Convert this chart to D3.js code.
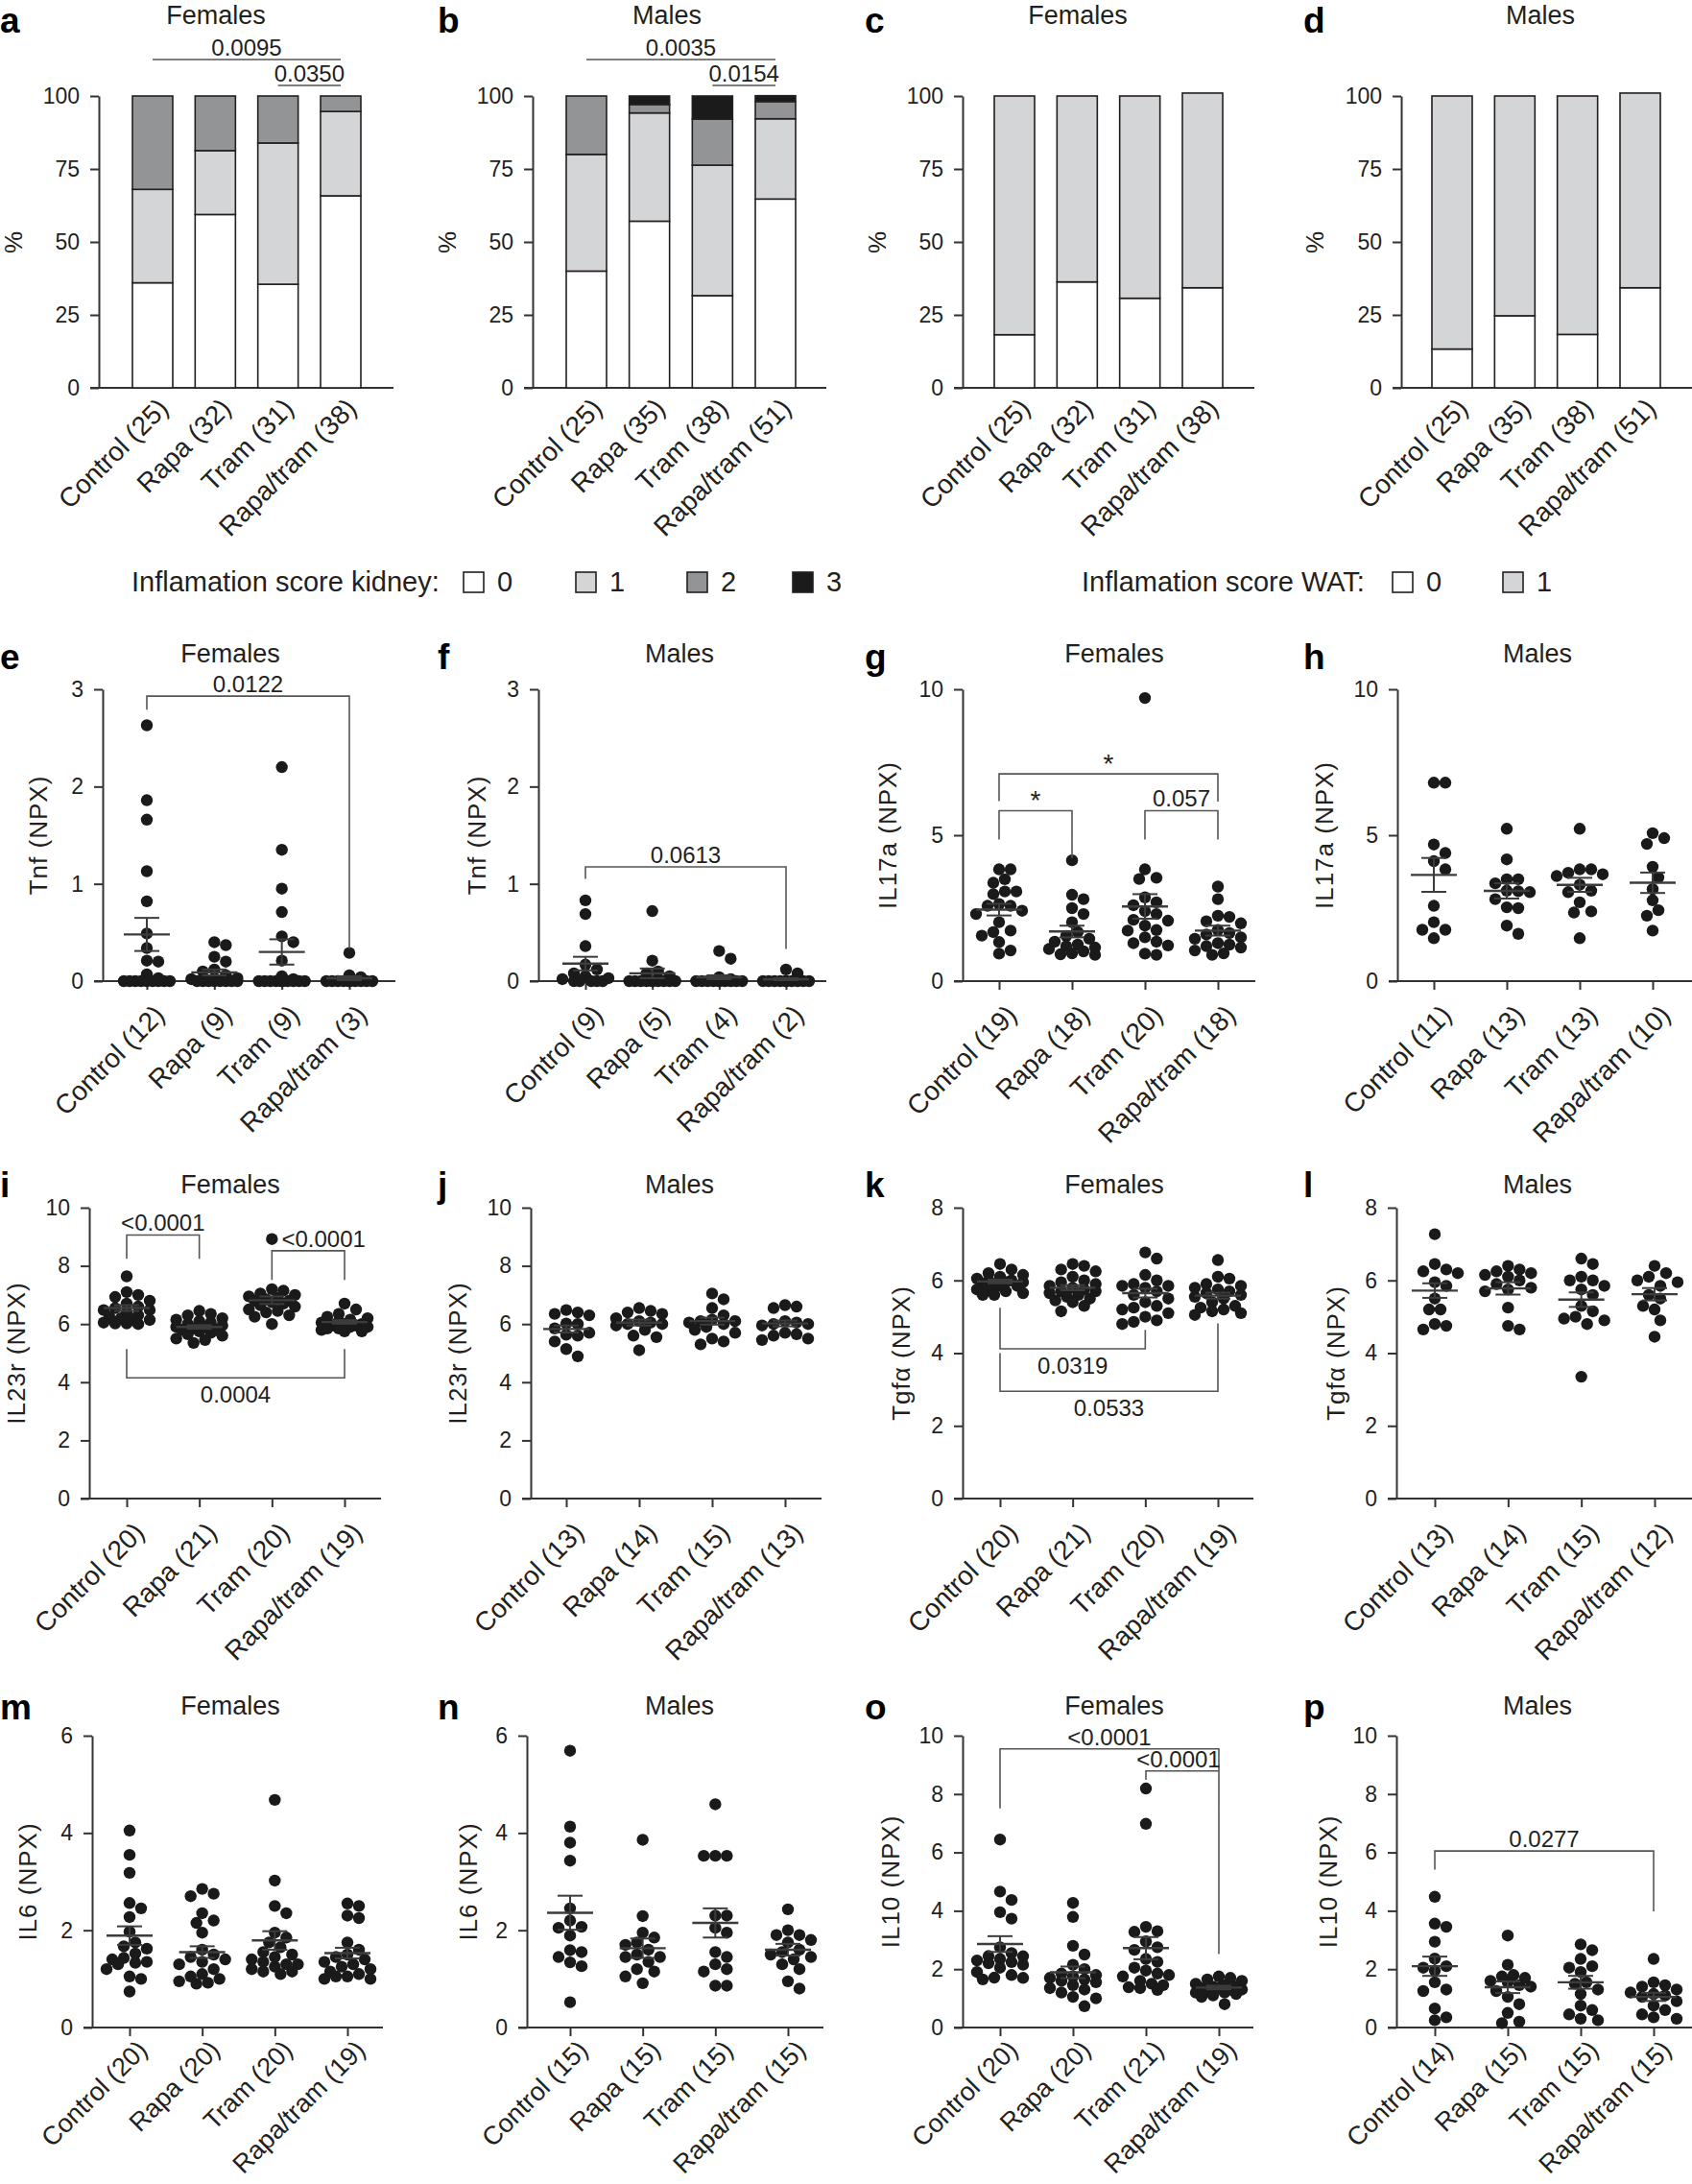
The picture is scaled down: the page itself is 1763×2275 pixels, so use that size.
<!DOCTYPE html>
<html><head><meta charset="utf-8">
<script src="https://cdn.jsdelivr.net/npm/d3@7"></script>
<style>
body{margin:0;background:#fff}
svg{display:block}
</style>
</head><body>
<svg id="fig" width="1763" height="2275"></svg>
<script>
// ---------------- DATA ----------------
const groups = ["Control", "Rapa", "Tram", "Rapa/tram"];
const kidneyScores = ["0", "1", "2", "3"];
const watScores = ["0", "1"];

// stacked percentages (score 0,1,2,3) per group
const aKidneyFemales = [[36, 32, 32, 0], [59.4, 21.9, 18.7, 0], [35.5, 48.4, 16.1, 0], [65.8, 28.9, 5.3, 0]];
const bKidneyMales = [[40, 40, 20, 0], [57.1, 37.1, 2.9, 2.9], [31.6, 44.7, 15.8, 7.9], [64.7, 27.5, 5.9, 2.0]];
const cWatFemales = [[18.2, 81.8], [36.3, 63.7], [30.7, 69.3], [34.3, 66.7]];
const dWatMales = [[13.3, 86.7], [24.7, 75.3], [18.3, 81.7], [34.3, 66.7]];
const aN = [25, 32, 31, 38], bN = [25, 35, 38, 51], cN = [25, 32, 31, 38], dN = [25, 35, 38, 51];

// scatter values per group
const eTnfF = [
  [2.63,1.86,1.66,1.13,0.82,0.49,0.34,0.21,0.2,0.07,0.03,0,0,0,0,0,0,0,0,0],
  [0.4,0.37,0.25,0.2,0.12,0.1,0.06,0.03,0.02,0,0,0,0,0,0,0,0],
  [2.2,1.35,0.95,0.71,0.46,0.4,0.21,0.05,0.02,0,0,0,0,0,0,0,0,0,0,0,0],
  [0.29,0.06,0.04,0,0,0,0,0,0,0,0,0,0,0]];
const fTnfM = [
  [0.83,0.69,0.36,0.17,0.12,0.08,0.05,0.03,0.02,0,0,0,0,0],
  [0.72,0.21,0.1,0.08,0.05,0,0,0,0,0,0,0,0,0,0],
  [0.31,0.23,0.04,0.02,0,0,0,0,0,0,0,0,0,0],
  [0.12,0.08,0,0,0,0,0,0,0,0,0,0]];
const gIl17aF = [
  [3.83,3.83,3.49,3.37,3.07,3.07,2.98,2.64,2.58,2.58,2.41,2.3,2.02,1.73,1.68,1.56,1.34,1.05,0.94],
  [4.14,2.96,2.81,2.5,2.3,2.02,1.68,1.55,1.45,1.35,1.25,1.2,1.15,1.1,1.02,0.95,0.92,0.9],
  [9.7,3.83,3.54,3.5,2.87,2.7,2.6,2.4,2.3,2.1,2.07,1.9,1.75,1.73,1.5,1.35,1.3,1.22,0.94,0.9],
  [3.24,2.81,2.24,2.2,2.05,1.98,1.75,1.65,1.6,1.5,1.45,1.3,1.25,1.2,1.15,1.05,0.95,0.9]];
const hIl17aM = [
  [6.8,6.8,4.68,4.39,4.11,3.83,2.58,2.02,1.76,1.76,1.47],
  [5.22,4.17,3.49,3.49,3.35,3.1,3.08,3.05,2.81,2.53,2.5,1.9,1.62],
  [5.22,3.83,3.83,3.71,3.66,3.6,3.3,3.1,3.05,2.7,2.39,2.35,1.47],
  [5.07,4.9,4.7,3.92,3.55,3.15,2.77,2.43,2.24,1.73]];
const iIl23rF = [
  [7.64,7.1,7.0,6.93,6.8,6.7,6.6,6.55,6.48,6.48,6.4,6.3,6.25,6.2,6.14,6.14,6.05,6.02,6.02,6.0],
  [6.45,6.35,6.3,6.2,6.15,6.1,6.05,6.0,5.95,5.9,5.9,5.85,5.8,5.8,5.75,5.7,5.65,5.6,5.5,5.45,5.35],
  [8.92,7.2,7.15,7.05,7.0,6.95,6.9,6.85,6.8,6.8,6.75,6.7,6.65,6.6,6.5,6.45,6.4,6.3,6.25,6.0],
  [6.7,6.5,6.35,6.25,6.2,6.15,6.1,6.05,6.0,6.0,5.95,5.95,5.9,5.9,5.85,5.85,5.8,5.75,5.75]];
const jIl23rM = [
  [6.48,6.4,6.35,6.3,6.02,6.0,5.85,5.7,5.63,5.6,5.4,5.14,4.89],
  [6.55,6.45,6.4,6.35,6.2,6.1,6.05,6.0,6.0,5.95,5.8,5.6,5.55,5.1],
  [7.05,6.85,6.55,6.3,6.15,6.1,6.1,6.05,6.0,5.9,5.8,5.7,5.5,5.4,5.3],
  [6.65,6.6,6.55,6.1,6.05,6.0,6.0,5.95,5.7,5.65,5.6,5.5,5.45]];
const kTgfaF = [
  [6.45,6.3,6.2,6.15,6.1,6.05,6.0,6.0,5.95,5.95,5.9,5.9,5.85,5.85,5.8,5.75,5.7,5.65,5.6,5.6],
  [6.45,6.4,6.3,6.25,6.1,6.0,5.95,5.9,5.85,5.8,5.75,5.7,5.7,5.65,5.6,5.55,5.5,5.45,5.4,5.3,5.15],
  [6.77,6.6,6.15,6.0,5.9,5.85,5.85,5.8,5.7,5.6,5.5,5.4,5.3,5.25,5.2,5.1,5.0,4.9,4.86,4.8],
  [6.56,6.1,6.05,5.9,5.85,5.8,5.75,5.7,5.65,5.6,5.55,5.5,5.4,5.3,5.25,5.2,5.15,5.1,5.05]];
const lTgfaM = [
  [7.27,6.45,6.3,6.25,6.2,5.95,5.85,5.5,5.2,5.2,4.8,4.75,4.65],
  [6.4,6.3,6.25,6.2,6.15,6.1,6.0,5.9,5.8,5.75,5.7,5.25,4.75,4.65],
  [6.6,6.45,6.1,6.0,6.0,5.85,5.75,5.6,5.3,5.15,5.0,4.95,4.9,4.8,3.35],
  [6.4,6.2,6.1,6.0,5.95,5.85,5.6,5.5,5.3,5.2,4.9,4.45]];
const mIl6F = [
  [4.05,3.55,3.18,2.56,2.45,2.27,1.97,1.75,1.67,1.62,1.52,1.43,1.4,1.35,1.33,1.3,1.2,1.05,1.0,0.74],
  [2.85,2.75,2.7,2.35,2.2,2.15,1.95,1.6,1.5,1.45,1.4,1.35,1.3,1.2,1.1,1.05,1.0,0.95,0.92,0.9],
  [4.68,3.02,2.5,2.35,1.95,1.85,1.75,1.65,1.55,1.5,1.45,1.4,1.35,1.3,1.3,1.25,1.2,1.15,1.15,1.1],
  [2.55,2.5,2.3,2.25,1.75,1.6,1.5,1.45,1.4,1.35,1.3,1.25,1.2,1.15,1.1,1.05,1.05,1.0,1.0]];
const nIl6M = [
  [5.69,4.13,3.8,3.43,2.45,2.2,2.07,2.05,1.89,1.59,1.55,1.45,1.34,1.26,0.52],
  [3.86,2.29,1.95,1.85,1.75,1.7,1.6,1.5,1.45,1.45,1.35,1.2,1.15,1.05,0.91],
  [4.59,3.53,3.53,3.53,2.3,2.3,2.05,1.95,1.55,1.45,1.3,1.2,1.15,0.86,0.86],
  [2.43,2.0,1.9,1.9,1.8,1.75,1.6,1.55,1.5,1.45,1.4,1.3,1.2,0.95,0.8]];
const oIl10F = [
  [6.44,4.66,4.37,3.95,3.73,2.75,2.55,2.45,2.44,2.35,2.3,2.24,2.2,2.15,2.05,1.9,1.8,1.71,1.7,1.65],
  [4.27,3.79,2.8,2.5,2.15,2.0,1.85,1.8,1.75,1.7,1.65,1.6,1.55,1.45,1.35,1.3,1.2,1.05,1.0,0.73],
  [8.19,6.98,3.45,3.3,3.28,2.95,2.75,2.66,2.35,2.25,2.05,1.95,1.85,1.8,1.75,1.6,1.5,1.45,1.38,1.35,1.29],
  [1.75,1.7,1.65,1.6,1.5,1.45,1.4,1.4,1.35,1.35,1.3,1.3,1.25,1.2,1.2,1.15,1.1,1.05,0.8]];
const pIl10M = [
  [4.48,3.56,3.45,2.94,2.36,2.1,2.05,1.95,1.55,1.3,1.25,0.65,0.35,0.25],
  [3.15,2.15,1.8,1.75,1.7,1.6,1.55,1.45,1.4,1.25,1.05,0.8,0.5,0.2,0.15],
  [2.85,2.65,2.35,2.1,2.05,1.9,1.55,1.5,1.3,1.15,0.75,0.6,0.45,0.3,0.25],
  [2.35,1.55,1.45,1.4,1.3,1.2,1.15,1.1,1.05,0.9,0.75,0.6,0.45,0.35,0.3]];

// group means and SEM
const eMean = [0.48, 0.09, 0.30, 0.03], eSem = [0.17, 0.03, 0.13, 0.02];
const fMean = [0.18, 0.08, 0.04, 0.02], fSem = [0.07, 0.05, 0.02, 0.01];
const gMean = [2.45, 1.70, 2.56, 1.73], gSem = [0.2, 0.2, 0.42, 0.17];
const hMean = [3.64, 3.09, 3.30, 3.37], hSem = [0.58, 0.26, 0.24, 0.35];
const iMean = [6.55, 5.90, 6.82, 6.07], iSem = [0.1, 0.06, 0.13, 0.06];
const jMean = [5.83, 6.05, 6.10, 6.02], jSem = [0.12, 0.1, 0.12, 0.1];
const kMean = [5.97, 5.80, 5.65, 5.58], kSem = [0.05, 0.07, 0.12, 0.08];
const lMean = [5.72, 5.78, 5.47, 5.62], lSem = [0.2, 0.17, 0.2, 0.17];
const mMean = [1.89, 1.55, 1.79, 1.53], mSem = [0.19, 0.12, 0.19, 0.11];
const nMean = [2.36, 1.63, 2.15, 1.60], nSem = [0.35, 0.2, 0.3, 0.12];
const oMean = [2.86, 1.89, 2.72, 1.37], oSem = [0.27, 0.2, 0.38, 0.06];
const pMean = [2.10, 1.38, 1.55, 1.05], pSem = [0.33, 0.2, 0.22, 0.14];

const eN = [12, 9, 9, 3], fN = [9, 5, 4, 2], gN = [19, 18, 20, 18], hN = [11, 13, 13, 10];
const iN = [20, 21, 20, 19], jN = [13, 14, 15, 13], kN = [20, 21, 20, 19], lN = [13, 14, 15, 12];
const mN = [20, 20, 20, 19], nN = [15, 15, 15, 15], oN = [20, 20, 21, 19], pN = [14, 15, 15, 15];

// y ticks
const pctTicks = [0, 25, 50, 75, 100];
const tnfTicks = [0, 1, 2, 3];
const il17Ticks = [0, 5, 10];
const il23Ticks = [0, 2, 4, 6, 8, 10];
const tgfTicks = [0, 2, 4, 6, 8];
const il6Ticks = [0, 2, 4, 6];
const il10Ticks = [0, 2, 4, 6, 8, 10];

// significance annotations: groups a-b, bracket level, leg ends, label
const aSig = [{a:0,b:3,y:112.5,la:112.5,lb:112.5,t:"0.0095"},{a:2,b:3,y:103.6,la:103.6,lb:103.6,t:"0.0350"}];
const bSig = [{a:0,b:3,y:112.5,la:112.5,lb:112.5,t:"0.0035"},{a:2,b:3,y:103.6,la:103.6,lb:103.6,t:"0.0154"}];
const eSig = [{a:0,b:3,y:2.93,la:2.79,lb:0.33,t:"0.0122"}];
const fSig = [{a:0,b:3,y:1.175,la:1.05,lb:0.33,t:"0.0613"}];
const gSig = [{a:0,b:3,y:7.1,la:6.17,lb:6.15,t:"*"},{a:0,b:1,y:5.84,la:4.85,lb:4.22,t:"*"},{a:2,b:3,y:5.84,la:4.85,lb:4.85,t:"0.057"}];
const iSig = [{a:0,b:1,y:9.06,la:8.24,lb:8.24,t:"<0.0001"},{a:2,b:3,y:8.52,la:7.52,lb:7.52,t:"<0.0001",dx:16},{a:0,b:3,y:4.15,la:5.14,lb:5.14,t:"0.0004",below:true}];
const kSig = [{a:0,b:2,y:4.12,la:5.25,lb:4.64,t:"0.0319",below:true},{a:0,b:3,y:2.95,la:4.0,lb:4.82,t:"0.0533",below:true}];
const oSig = [{a:0,b:3,y:9.55,la:7.51,lb:2.52,t:"<0.0001"},{a:2,b:3,y:8.79,la:8.49,lb:8.79,t:"<0.0001",dx:-4}];
const pSig = [{a:0,b:3,y:6.05,la:5.41,lb:3.98,t:"0.0277"}];

// ---------------- STYLE / LAYOUT ----------------
const FONT = '"Liberation Sans", Arial, sans-serif';
const INK = "#231f20";
const AXIS = "#333333";
const kidneyColors = ["#ffffff", "#d4d5d7", "#939496", "#1b1b1b"];
const watColors = ["#ffffff", "#d4d5d7"];
const rows = [
  {yt:100, yb:404, title:25, letter:34, catOff:23, catSize:28},
  {yt:718, yb:1022, title:690, letter:697, catOff:37, catSize:28},
  {yt:1258, yb:1561, title:1243, letter:1247, catOff:37, catSize:28},
  {yt:1808, yb:2112, title:1786, letter:1791, catOff:25, catSize:27}];
const letterX = [0, 456, 901, 1358];

const svg = d3.select("#fig");
svg.append("rect").attr("width",1763).attr("height",2275).attr("fill","#fff");

function labelsOf(ns){ return groups.map((g,i)=>`${g} (${ns[i]})`); }

function frame(p){
  const r = rows[p.row];
  const g = svg.append("g");
  const y = d3.scaleLinear().domain([0, p.ymax]).range([r.yb, r.yt]);
  const x = d3.scalePoint().domain(groups).range([p.c0, p.c3]);
  // y axis
  const ya = d3.axisLeft(y).tickValues(p.ticks).tickSize(9).tickSizeOuter(0).tickPadding(11).tickFormat(d3.format("d"));
  const yg = g.append("g").attr("transform",`translate(${p.ax},0)`).call(ya);
  yg.select(".domain").attr("stroke",AXIS).attr("stroke-width",2);
  yg.selectAll(".tick line").attr("stroke",AXIS).attr("stroke-width",2);
  yg.selectAll(".tick text").attr("font-family",FONT).attr("font-size",23).attr("fill",INK);
  // x axis baseline
  g.append("line").attr("x1",p.ax-9).attr("x2",p.xe).attr("y1",y(0)).attr("y2",y(0))
    .attr("stroke",AXIS).attr("stroke-width",2);
  if(p.xticks){
    const xa = d3.axisBottom(x).tickSize(9).tickSizeOuter(0).tickFormat("");
    const xg = g.append("g").attr("transform",`translate(0,${y(0)})`).call(xa);
    xg.select(".domain").remove();
    xg.selectAll(".tick line").attr("stroke",AXIS).attr("stroke-width",2);
  }
  // category labels
  const offX = p.xticks ? 20 : 18;
  g.selectAll("text.cat").data(labelsOf(p.n)).join("text").attr("class","cat")
    .attr("transform",(d,i)=>`translate(${x(groups[i])+offX},${y(0)+r.catOff}) rotate(-45)`)
    .attr("text-anchor","end").attr("font-family",FONT).attr("font-size",r.catSize).attr("fill",INK)
    .text(d=>d);
  // titles / letters / y label
  g.append("text").attr("x",p.tx).attr("y",r.title).attr("text-anchor","middle")
    .attr("font-family",FONT).attr("font-size",27).attr("fill",INK).text(p.title);
  g.append("text").attr("x",letterX[p.col]).attr("y",r.letter)
    .attr("font-family",FONT).attr("font-weight","bold").attr("font-size",37).attr("fill","#000").text(p.letter);
  g.append("text").attr("transform",`translate(${p.ylx},${(r.yt+r.yb)/2}) rotate(-90)`)
    .attr("text-anchor","middle").attr("dominant-baseline","central")
    .attr("font-family",FONT).attr("font-size",26).attr("letter-spacing",1).attr("fill",INK).text(p.ylabel);
  return {g, x, y};
}

function sig(g, x, y, list){
  list.forEach(s=>{
    const x1 = x(groups[s.a]), x2 = x(groups[s.b]);
    const path = d3.path();
    path.moveTo(x1, y(s.la)); path.lineTo(x1, y(s.y)); path.lineTo(x2, y(s.y)); path.lineTo(x2, y(s.lb));
    g.append("path").attr("d",path.toString()).attr("fill","none").attr("stroke","#555").attr("stroke-width",1.6);
    const isStar = s.t === "*";
    g.append("text").attr("x",(x1+x2)/2 + (s.dx||0))
      .attr("y", s.below ? y(s.y)+26 : y(s.y) - (isStar ? 1 : 4))
      .attr("text-anchor","middle").attr("font-family",FONT)
      .attr("font-size", isStar ? 28 : 24).attr("fill",INK).text(s.t);
  });
}

function barPanel(p, data, keys, colors){
  const {g, x, y} = frame(p);
  const rowsData = data.map((v,i)=>{ const o={group:groups[i]}; keys.forEach((k,j)=>o[k]=v[j]); return o; });
  const series = d3.stack().keys(keys)(rowsData);
  const bw = 42;
  series.forEach((s,si)=>{
    g.selectAll(null).data(s.filter(d=>d[1]-d[0]>0)).join("rect")
      .attr("x",d=>x(d.data.group)-bw/2).attr("width",bw)
      .attr("y",d=>y(d[1])).attr("height",d=>y(d[0])-y(d[1]))
      .attr("fill",colors[si]).attr("stroke",INK).attr("stroke-width",1.6);
  });
  if(p.sig) sig(g, x, y, p.sig);
}

function swarm(vals, y, step, minD, maxW){
  const idx = vals.map((v,i)=>i).sort((a,b)=>vals[b]-vals[a]);
  const placed = [], out = new Array(vals.length);
  const cands = [0];
  for(let k=1;k*step<=maxW;k++){ cands.push(k*step, -k*step); }
  for(const i of idx){
    const py = y(vals[i]);
    let best = 0, bestD = -1;
    for(const dx of cands){
      let md = Infinity;
      for(const q of placed){ const d = Math.hypot(q.x-dx, q.y-py); if(d<md) md=d; }
      if(md >= minD){ best = dx; bestD = md; break; }
      if(md > bestD){ bestD = md; best = dx; }
    }
    placed.push({x:best, y:py}); out[i] = best;
  }
  return out;
}

function scatterPanel(p, data, mean, sem){
  const {g, x, y} = frame(p);
  data.forEach((vals,gi)=>{
    const cx = x(groups[gi]);
    const offs = swarm(vals, y, 6, 11.5, 27);
    g.selectAll(null).data(vals).join("circle")
      .attr("cx",(d,i)=>cx+offs[i]).attr("cy",d=>y(d)).attr("r",6.2).attr("fill","#1a1a1a");
  });
  // mean ± SEM
  const LC = "#3c3c3c";
  groups.forEach((grp,gi)=>{
    const cx = x(grp);
    const m = mean[gi], s = sem[gi];
    g.append("line").attr("x1",cx-24).attr("x2",cx+24).attr("y1",y(m)).attr("y2",y(m)).attr("stroke",LC).attr("stroke-width",2.4);
    g.append("line").attr("x1",cx).attr("x2",cx).attr("y1",y(m-s)).attr("y2",y(m+s)).attr("stroke",LC).attr("stroke-width",2);
    [m-s, m+s].forEach(v=>g.append("line").attr("x1",cx-13).attr("x2",cx+13).attr("y1",y(v)).attr("y2",y(v)).attr("stroke",LC).attr("stroke-width",2));
  });
  if(p.sig) sig(g, x, y, p.sig);
}

// ---------------- PANELS ----------------
barPanel({row:0,col:0,letter:"a",title:"Females",tx:225,ylx:14,ylabel:"%",ax:103,c0:159,c3:355,xe:410,ymax:100,ticks:pctTicks,n:aN,sig:aSig}, aKidneyFemales, kidneyScores, kidneyColors);
barPanel({row:0,col:1,letter:"b",title:"Males",tx:695,ylx:466,ylabel:"%",ax:555,c0:611,c3:808,xe:861,ymax:100,ticks:pctTicks,n:bN,sig:bSig}, bKidneyMales, kidneyScores, kidneyColors);
barPanel({row:0,col:2,letter:"c",title:"Females",tx:1123,ylx:914,ylabel:"%",ax:1003,c0:1057,c3:1253,xe:1307,ymax:100,ticks:pctTicks,n:cN}, cWatFemales, watScores, watColors);
barPanel({row:0,col:3,letter:"d",title:"Males",tx:1605,ylx:1370,ylabel:"%",ax:1460,c0:1513,c3:1709,xe:1763,ymax:100,ticks:pctTicks,n:dN}, dWatMales, watScores, watColors);

scatterPanel({row:1,col:0,letter:"e",title:"Females",tx:240,ylx:40,ylabel:"Tnf (NPX)",ax:107,c0:153,c3:364,xe:412,ymax:3,ticks:tnfTicks,n:eN,xticks:true,sig:eSig}, eTnfF, eMean, eSem);
scatterPanel({row:1,col:1,letter:"f",title:"Males",tx:708,ylx:497,ylabel:"Tnf (NPX)",ax:561,c0:610,c3:819,xe:861,ymax:3,ticks:tnfTicks,n:fN,xticks:true,sig:fSig}, fTnfM, fMean, fSem);
scatterPanel({row:1,col:2,letter:"g",title:"Females",tx:1161,ylx:925,ylabel:"IL17a (NPX)",ax:1003,c0:1041,c3:1269,xe:1308,ymax:10,ticks:il17Ticks,n:gN,xticks:true,sig:gSig}, gIl17aF, gMean, gSem);
scatterPanel({row:1,col:3,letter:"h",title:"Males",tx:1602,ylx:1380,ylabel:"IL17a (NPX)",ax:1456,c0:1494,c3:1722,xe:1763,ymax:10,ticks:il17Ticks,n:hN,xticks:true}, hIl17aM, hMean, hSem);

scatterPanel({row:2,col:0,letter:"i",title:"Females",tx:240,ylx:17,ylabel:"IL23r (NPX)",ax:93,c0:132,c3:359,xe:397,ymax:10,ticks:il23Ticks,n:iN,xticks:true,sig:iSig}, iIl23rF, iMean, iSem);
scatterPanel({row:2,col:1,letter:"j",title:"Males",tx:708,ylx:477,ylabel:"IL23r (NPX)",ax:553,c0:590,c3:818,xe:856,ymax:10,ticks:il23Ticks,n:jN,xticks:true}, jIl23rM, jMean, jSem);
scatterPanel({row:2,col:2,letter:"k",title:"Females",tx:1161,ylx:939,ylabel:"Tgfα (NPX)",ax:1003,c0:1042,c3:1269,xe:1306,ymax:8,ticks:tgfTicks,n:kN,xticks:true,sig:kSig}, kTgfaF, kMean, kSem);
scatterPanel({row:2,col:3,letter:"l",title:"Males",tx:1602,ylx:1392,ylabel:"Tgfα (NPX)",ax:1455,c0:1495,c3:1724,xe:1763,ymax:8,ticks:tgfTicks,n:lN,xticks:true}, lTgfaM, lMean, lSem);

scatterPanel({row:3,col:0,letter:"m",title:"Females",tx:240,ylx:29,ylabel:"IL6 (NPX)",ax:96,c0:135,c3:362,xe:399,ymax:6,ticks:il6Ticks,n:mN,xticks:true}, mIl6F, mMean, mSem);
scatterPanel({row:3,col:1,letter:"n",title:"Males",tx:708,ylx:488,ylabel:"IL6 (NPX)",ax:549,c0:594,c3:821,xe:858,ymax:6,ticks:il6Ticks,n:nN,xticks:true}, nIl6M, nMean, nSem);
scatterPanel({row:3,col:2,letter:"o",title:"Females",tx:1161,ylx:928,ylabel:"IL10 (NPX)",ax:1003,c0:1042,c3:1270,xe:1306,ymax:10,ticks:il10Ticks,n:oN,xticks:true,sig:oSig}, oIl10F, oMean, oSem);
scatterPanel({row:3,col:3,letter:"p",title:"Males",tx:1602,ylx:1384,ylabel:"IL10 (NPX)",ax:1455,c0:1495,c3:1723,xe:1763,ymax:10,ticks:il10Ticks,n:pN,xticks:true,sig:pSig}, pIl10M, pMean, pSem);

// ---------------- LEGENDS ----------------
function legend(title, tx, boxXs, labels, colors){
  const g = svg.append("g");
  const cy = 606;
  g.append("text").attr("x",tx).attr("y",cy+10).attr("font-family",FONT).attr("font-size",29).attr("fill",INK).text(title);
  g.selectAll("rect").data(labels).join("rect")
    .attr("x",(d,i)=>boxXs[i]).attr("y",cy-10).attr("width",21).attr("height",21)
    .attr("fill",(d,i)=>colors[i]).attr("stroke",INK).attr("stroke-width",1.6);
  g.selectAll("text.l").data(labels).join("text").attr("class","l")
    .attr("x",(d,i)=>boxXs[i]+35).attr("y",cy+10).attr("font-family",FONT).attr("font-size",29).attr("fill",INK).text(d=>d);
}
legend("Inflamation score kidney:", 137, [483, 600, 716, 826], kidneyScores, kidneyColors);
legend("Inflamation score WAT:", 1127, [1451, 1566], watScores, watColors);
</script>
</body></html>
